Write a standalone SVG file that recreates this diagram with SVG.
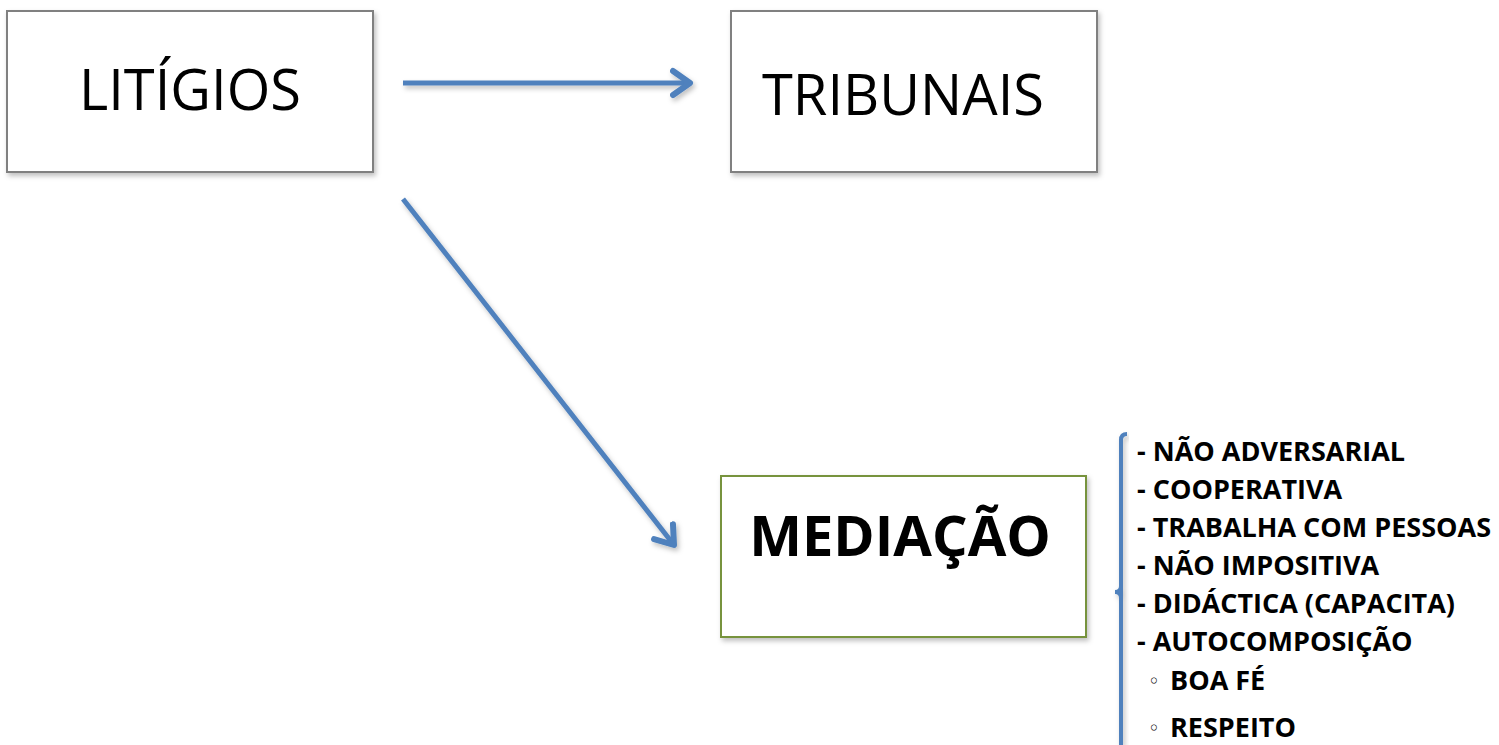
<svg xmlns="http://www.w3.org/2000/svg" width="1499" height="745" viewBox="0 0 1499 745">
<style>
.box{fill:#fff;stroke:#808080;stroke-width:2}
.green{stroke:#77933C}
.conn{stroke:#4F81BD;stroke-width:5;fill:none}
.big{font-family:"Open Sans","Noto Sans",sans-serif;font-size:56px;fill:#000}
.bold{font-weight:bold}
.li{font-family:"Open Sans","Noto Sans",sans-serif;font-size:27px;font-weight:bold;fill:#000}
.bul{font-family:"DejaVu Sans",sans-serif;font-size:20px;font-weight:normal}
</style>
<defs>
<filter id="sh" x="-10%" y="-10%" width="120%" height="130%">
<feDropShadow dx="2" dy="3" stdDeviation="2.5" flood-color="#000" flood-opacity="0.25"/>
</filter>
<marker id="ah" markerUnits="userSpaceOnUse" markerWidth="40" markerHeight="40" refX="20" refY="20" orient="auto" viewBox="0 0 40 40">
<polyline points="3,8 20,20 3,32" fill="none" stroke="#4F81BD" stroke-width="6" stroke-linecap="round" stroke-linejoin="round"/>
</marker>
</defs>
<g id="connectors" filter="url(#sh)">
<line class="conn" x1="403" y1="83" x2="690" y2="83" marker-end="url(#ah)"/>
<line class="conn" x1="403" y1="199" x2="674" y2="545" marker-end="url(#ah)"/>
</g>
<g id="node-litigios">
<rect class="box" x="7" y="11" width="366" height="161" filter="url(#sh)"/>
<text class="big" x="190" y="110" text-anchor="middle">LITÍGIOS</text>
</g>
<g id="node-tribunais">
<rect class="box" x="731" y="11" width="366" height="161" filter="url(#sh)"/>
<text class="big" x="903" y="115" text-anchor="middle">TRIBUNAIS</text>
</g>
<g id="node-mediacao">
<rect class="box green" x="721" y="476" width="365" height="161" filter="url(#sh)"/>
<text class="big bold" x="900" y="556" text-anchor="middle">MEDIAÇÃO</text>
</g>
<g id="bracket">
<path d="M1127,434 Q1121,434 1121,440 L1121,745 M1121,586 Q1121,592 1115,592 Q1121,592 1121,598" fill="none" stroke="#4F81BD" stroke-width="4" filter="url(#sh)"/>
</g>
<g id="list">
<text class="li" x="1137" y="461">- NÃO ADVERSARIAL</text>
<text class="li" x="1137" y="499">- COOPERATIVA</text>
<text class="li" x="1137" y="537">- TRABALHA COM PESSOAS</text>
<text class="li" x="1137" y="575">- NÃO IMPOSITIVA</text>
<text class="li" x="1137" y="613">- DIDÁCTICA (CAPACITA)</text>
<text class="li" x="1137" y="651">- AUTOCOMPOSIÇÃO</text>
<text class="bul" x="1148" y="688">◦</text>
<text class="li" x="1170" y="690">BOA FÉ</text>
<text class="bul" x="1148" y="735">◦</text>
<text class="li" x="1170" y="737">RESPEITO</text>
</g>
</svg>
